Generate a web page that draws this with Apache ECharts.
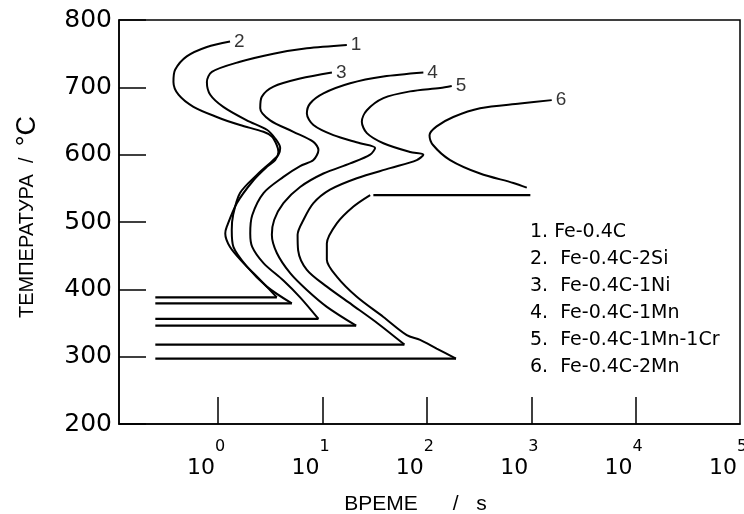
<!DOCTYPE html>
<html>
<head>
<meta charset="utf-8">
<script src="https://cdn.jsdelivr.net/npm/echarts@6/dist/echarts.min.js"></script>
<style>
  html, body { margin: 0; background: #fff; }
  #main { width: 744px; height: 514px; }
</style>
</head>
<body>
<div id="main"></div>
<script>
// [time s, temperature °C], from the labelled end downwards
var curve1 = [[17.1,763],[7.08,758],[3.39,750],[1.62,738],[0.87,723],[0.78,708],[0.84,689],[1.12,671],
  [1.88,651],[2.93,637],[3.52,624],[3.93,610],[3.78,600],[3.27,590],[2.35,570],[1.62,543],[1.39,510],
  [1.35,488],[1.40,463],[1.88,434],[2.93,404],[5.08,379]];
var curve2 = [[1.30,768],[0.78,760],[0.50,746],[0.387,726],[0.373,708],[0.417,689],[0.58,671],[0.97,656],
  [1.62,644],[2.72,634],[3.27,627],[3.65,614],[3.78,604],[3.52,592],[2.93,582],[2.18,562],[1.51,528],
  [1.21,493],[1.17,483],[1.30,463],[1.75,439],[2.53,414],[3.65,388]];
var curve3 = [[12.3,722],[6.10,713],[3.39,701],[2.62,686],[2.53,669],[3.15,651],[5.26,634],[8.18,619],
  [9.14,607],[8.18,592],[6.10,583],[4.22,567],[2.72,543],[2.12,510],[2.03,483],[2.12,463],[2.72,439],
  [4.22,413],[6.10,388],[9.14,356]];
var curve4 = [[92.5,722],[38.3,716],[18.4,706],[10.2,691],[7.60,676],[7.08,661],[8.18,644],[12.7,629],
  [22.9,617],[31.9,610],[28.6,600],[18.4,587],[10.2,572],[6.10,552],[4.22,528],[3.44,503],[3.27,481],
  [3.65,454],[4.90,424],[7.08,399],[11.0,374],[21.0,346]];
var curve5 = [[173,702],[134,699],[69.0,694],[38.3,684],[26.6,666],[23.8,649],[26.6,632],[38.3,617],
  [69.0,604],[92.5,600],[80.0,592],[44.4,580],[21.3,565],[11.8,548],[8.18,528],[6.56,503],[5.77,481],
  [5.84,458],[7.08,429],[11.0,404],[19.2,377],[34.1,349],[60.9,318]];
var curve6Upper = [[1571,681],[781,676],[323,669],[179,656],[124,642],[106,629],[115,614],[167,592],
  [323,572],[674,558],[906,551]];
var curve6Lower = [[28.6,540],[19.8,523],[13.7,498],[11.0,468],[11.0,444],[13.7,419],[21.3,389],
  [38.3,359],[64.2,332],[86.1,325],[124,312],[190,297]];
var bay6 = [[30.7,540],[980,540]];
var msStart = 0.25;
var msTemps = [379, 388, 356, 346, 318, 297];
var curveNames = ['1', '2', '3', '4', '5', '6'];
var legendNames = ['1. Fe-0.4C', '2.  Fe-0.4C-2Si', '3.  Fe-0.4C-1Ni', '4.  Fe-0.4C-1Mn',
  '5.  Fe-0.4C-1Mn-1Cr', '6.  Fe-0.4C-2Mn'];
var xTicks = [0, 1, 2, 3, 4];
var xLabels = [0, 1, 2, 3, 4, 5];

function lg(pts) {
  return pts.map(function (p) { return [Math.log10(p[0]), p[1]]; });
}

var curves = [curve1, curve2, curve3, curve4, curve5, curve6Lower];
var series = [];
[curve1, curve2, curve3, curve4, curve5, curve6Upper, curve6Lower].forEach(function (c) {
  series.push({
    type: 'line', data: lg(c), smooth: 0.3, showSymbol: false, silent: true,
    lineStyle: { color: '#000', width: 2 }
  });
});
// horizontal Ms lines
curves.forEach(function (c, i) {
  var end = c[c.length - 1];
  series.push({
    type: 'line', data: lg([[msStart, msTemps[i]], [end[0], msTemps[i]]]), showSymbol: false, silent: true,
    lineStyle: { color: '#000', width: 2.2 }
  });
});
series.push({
  type: 'line', data: lg(bay6), showSymbol: false, silent: true,
  lineStyle: { color: '#000', width: 2.2 }
});
// curve number labels at the upper ends
var starts = [curve1, curve2, curve3, curve4, curve5, curve6Upper].map(function (c, i) {
  return { name: curveNames[i], value: [Math.log10(c[0][0]), c[0][1]] };
});
series.push({
  type: 'scatter', data: starts, symbolSize: 0, silent: true,
  label: {
    show: true, position: 'right', distance: 4, formatter: function (p) { return p.name; },
    color: '#000', fontSize: 19, fontFamily: 'Liberation Sans'
  }
});

var chart = echarts.init(document.getElementById('main'));
chart.setOption({
  backgroundColor: '#fff',
  animation: false,
  grid: {
    left: 119, right: 4, top: 20, bottom: 90, outerBoundsMode: 'none',
    show: true, borderColor: '#000', borderWidth: 1.5
  },
  xAxis: {
    type: 'value', min: -0.95, max: 5,
    name: 'ВРЕМЕ      /   s', nameLocation: 'middle', nameGap: 70,
    nameTextStyle: { color: '#000', fontSize: 21, fontFamily: 'Liberation Sans', padding: [0, 28, 0, 0] },
    axisLine: { onZero: false, lineStyle: { color: '#000', width: 1.5 } },
    axisTick: { inside: true, length: 27, customValues: xTicks, lineStyle: { color: '#000', width: 1.5 } },
    splitLine: { show: false },
    axisLabel: {
      customValues: xLabels, margin: 15, hideOverlap: false,
      formatter: function (v) { return '{b|10}{s|' + v + '}{p| }'; },
      rich: {
        b: { fontSize: 22, fontFamily: 'DejaVu Sans', color: '#000', lineHeight: 26, verticalAlign: 'bottom' },
        s: { fontSize: 16, fontFamily: 'DejaVu Sans', color: '#000', lineHeight: 18, verticalAlign: 'top' },
        p: { width: 24, lineHeight: 40 }
      }
    }
  },
  yAxis: {
    type: 'value', min: 200, max: 800, interval: 100,
    name: '{a|ТЕМПЕРАТУРА  /  }{c|°C}', nameLocation: 'middle', nameGap: 78, nameRotate: 90,
    nameTextStyle: {
      color: '#000', padding: [0, 0, 0, 10],
      rich: {
        a: { fontSize: 20, fontFamily: 'Liberation Sans', color: '#000' },
        c: { fontSize: 27, fontFamily: 'Liberation Sans', color: '#000' }
      }
    },
    axisLine: { onZero: false, lineStyle: { color: '#000', width: 1.5 } },
    axisTick: { inside: true, length: 27, lineStyle: { color: '#000', width: 1.5 } },
    splitLine: { show: false },
    axisLabel: { color: '#000', fontSize: 25, fontFamily: 'DejaVu Sans', margin: 7 }
  },
  graphic: [{
    type: 'text', left: 530, top: 219,
    style: { text: legendNames.join('\n'), fill: '#000', font: '19px "DejaVu Sans"', lineHeight: 27 }
  }],
  series: series
});
</script>
</body>
</html>
